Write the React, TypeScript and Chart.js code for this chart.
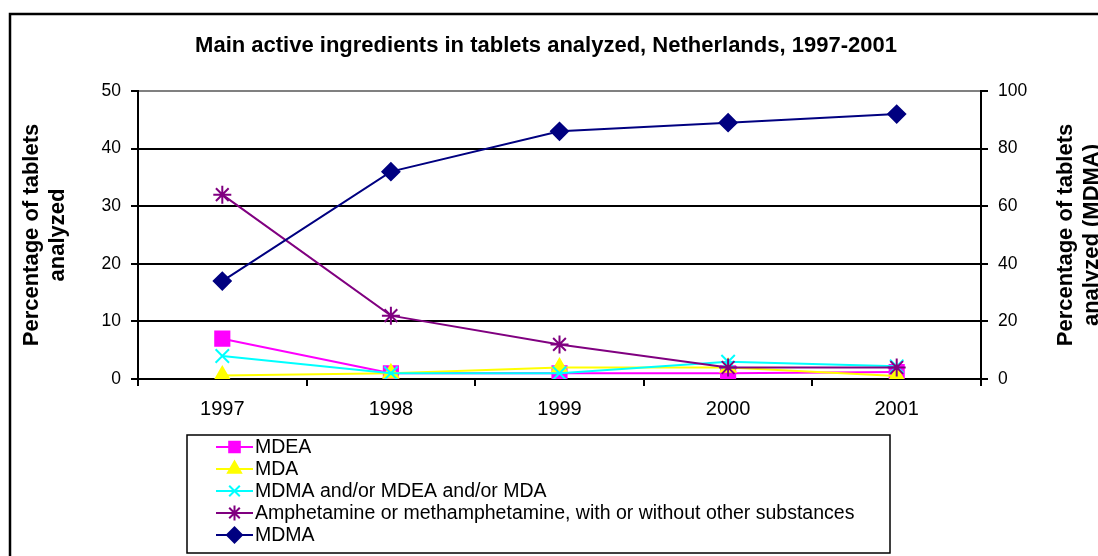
import React, { useEffect, useRef } from "react";
import { Chart, registerables } from "chart.js";
import { drawPoint } from "chart.js/helpers";

Chart.register(...registerables);

const FONT = "'Liberation Sans', Arial, sans-serif";

const years = ["1997", "1998", "1999", "2000", "2001"];
const mdea = [7, 1, 1, 1, 1.2];
const mda = [0.6, 1, 2, 2, 0.5];
const mdmaMix = [4, 1, 1, 3, 2.2];
const amphetamine = [32, 11, 6, 2, 2];
const mdma = [34, 72, 86, 89, 92];

const chartTitle = "Main active ingredients in tablets analyzed, Netherlands, 1997-2001";
const leftTitle = ["Percentage of tablets", "analyzed"];
const rightTitle = ["Percentage of tablets", "analyzed (MDMA)"];

const decor = {
  id: "decor",
  afterDraw(chart: any) {
    const ctx = chart.ctx as CanvasRenderingContext2D;
    const area = chart.chartArea;
    ctx.save();
    // outer border
    ctx.strokeStyle = "#000";
    ctx.lineWidth = 2.5;
    ctx.strokeRect(10, 14, 1300, 700);

    // title
    ctx.fillStyle = "#000";
    ctx.font = `bold 22px ${FONT}`;
    ctx.textAlign = "center";
    ctx.textBaseline = "middle";
    ctx.fillText(chartTitle, 546, 46);

    // axis titles
    const cy = (area.top + area.bottom) / 2;
    const drawRot = (lines: string[], xs: number[]) => {
      lines.forEach((t, i) => {
        ctx.save();
        ctx.translate(xs[i], cy);
        ctx.rotate(-Math.PI / 2);
        ctx.fillText(t, 0, 0);
        ctx.restore();
      });
    };
    drawRot(leftTitle, [32, 58]);
    drawRot(rightTitle, [1066, 1092]);

    // legend
    const lx = 187, ly = 435, lw = 703, lh = 118;
    ctx.lineWidth = 1.5;
    ctx.strokeStyle = "#000";
    ctx.strokeRect(lx, ly, lw, lh);
    ctx.font = `19.5px ${FONT}`;
    ctx.textAlign = "left";
    chart.data.datasets.forEach((ds: any, i: number) => {
      const y = 447 + i * 22;
      ctx.strokeStyle = ds.borderColor;
      ctx.lineWidth = 2;
      ctx.beginPath();
      ctx.moveTo(216, y);
      ctx.lineTo(253, y);
      ctx.stroke();
      ctx.fillStyle = ds.pointBackgroundColor;
      ctx.strokeStyle = ds.pointBorderColor;
      drawPoint(ctx, { pointStyle: ds.pointStyle, radius: 7.5, borderWidth: 2, rotation: 0 } as any, 234.5, y);
      ctx.fillStyle = "#000";
      ctx.fillText(ds.label, 255, y + 1);
    });
    ctx.restore();
  },
};

export default function App() {
  const ref = useRef<HTMLCanvasElement>(null);
  useEffect(() => {
    const mk = (label: string, data: number[], color: string, style: string, r: number, order: number, axis = "y") => ({
      label,
      data,
      yAxisID: axis,
      order,
      borderColor: color,
      backgroundColor: color,
      pointBackgroundColor: color,
      pointBorderColor: color,
      pointStyle: style,
      pointRadius: r,
      pointBorderWidth: 2,
      borderWidth: 2,
      tension: 0,
    });
    const chart = new Chart(ref.current!, {
      type: "line",
      data: {
        labels: years,
        datasets: [
          mk("MDEA", mdea, "#FF00FF", "rect", 10, 5),
          mk("MDA", mda, "#FFFF00", "triangle", 8.5, 4),
          mk("MDMA and/or MDEA and/or MDA", mdmaMix, "#00FFFF", "crossRot", 9.5, 3),
          mk("Amphetamine or methamphetamine, with or without other substances", amphetamine, "#800080", "star", 9, 2),
          mk("MDMA", mdma, "#000080", "rectRot", 8.5, 1, "y1"),
        ] as any,
      },
      options: {
        animation: false,
        responsive: false,
        maintainAspectRatio: false,
        layout: { padding: { top: 91, left: 0, right: 0, bottom: 0 } },
        plugins: { legend: { display: false }, title: { display: false }, tooltip: { enabled: false } },
        scales: {
          x: {
            type: "category",
            offset: true,
            grid: { offset: true, drawOnChartArea: false, drawTicks: true, tickLength: 7, color: "#000", lineWidth: 2 },
            border: { display: true, color: "#000", width: 2 },
            ticks: { color: "#000", font: { family: FONT, size: 20 }, padding: 11, maxRotation: 0 },
            afterFit: (s: any) => { s.height = 177; },
          },
          y: {
            position: "left",
            min: 0,
            max: 50,
            ticks: { stepSize: 10, color: "#000", font: { family: FONT, size: 17.5 }, padding: 10 },
            grid: {
              color: (c: any) => (c.tick && c.tick.value === 50 ? "#808080" : "#000"),
              tickColor: "#000",
              lineWidth: 2,
              tickLength: 7,
            },
            border: { display: true, color: "#000", width: 2 },
            afterFit: (s: any) => { s.width = 138; },
          },
          y1: {
            position: "right",
            min: 0,
            max: 100,
            ticks: { stepSize: 20, color: "#000", font: { family: FONT, size: 17.5 }, padding: 10 },
            grid: { drawOnChartArea: false, color: "#000", lineWidth: 2, tickLength: 7 },
            border: { display: true, color: "#000", width: 2 },
            afterFit: (s: any) => { s.width = 117; },
          },
        },
      } as any,
      plugins: [decor],
    });
    return () => chart.destroy();
  }, []);
  return (
    <div style={{ position: "fixed", left: 0, top: 0, width: 1098, height: 556, overflow: "hidden", background: "#fff" }}>
      <canvas ref={ref} width={1098} height={556} style={{ display: "block", width: 1098, height: 556 }} />
    </div>
  );
}
